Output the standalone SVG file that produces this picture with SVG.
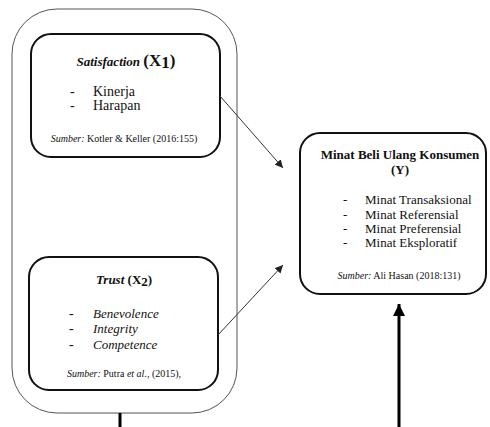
<svg xmlns="http://www.w3.org/2000/svg" width="490" height="427" viewBox="0 0 490 427">
<defs>
<marker id="ah" viewBox="0 0 10 10" refX="10" refY="5" markerWidth="8" markerHeight="8" markerUnits="userSpaceOnUse" orient="auto"><path d="M0,0 L10,5 L0,10 z" fill="#222"/></marker>
<marker id="ahb" viewBox="0 0 10 10" refX="10" refY="5" markerWidth="4" markerHeight="4" orient="auto"><path d="M0,0 L10,5 L0,10 z" fill="#000"/></marker>
<style>
text,tspan{font-family:"Liberation Serif","Times New Roman","DejaVu Serif",serif}
text{fill:#111}
.box{fill:#fff;stroke:#111;stroke-width:2}
.outer{fill:#fff;stroke:#555;stroke-width:1}
.t{font-size:13px;font-weight:bold;font-style:italic}
.tx{font-size:17px;font-weight:bold;font-style:normal}
.b{font-size:14px}
.m{font-size:13px}
.bi{font-size:13px;font-style:italic}
.s{font-size:10px}
.si{font-style:italic}
.h{font-size:13px;font-weight:bold}
</style>
</defs>
<rect class="outer" x="12" y="9" width="225" height="404" rx="45" ry="45"/>
<g id="satisfaction">
<rect class="box" x="31" y="34" width="189" height="123" rx="20" ry="20"/>
<text x="126" y="66" text-anchor="middle"><tspan class="t">Satisfaction </tspan><tspan class="tx">(X</tspan><tspan class="tx" font-size="10" dy="2">1</tspan><tspan class="tx" dy="-2">)</tspan></text>
<text class="b" x="70" y="96">-</text><text class="b" x="93" y="96">Kinerja</text>
<text class="b" x="70" y="110">-</text><text class="b" x="93" y="110">Harapan</text>
<text class="s" x="124" y="142" text-anchor="middle"><tspan class="si">Sumber:</tspan> Kotler &amp; Keller (2016:155)</text>
</g>
<g id="trust">
<rect class="box" x="29" y="257" width="189" height="133" rx="20" ry="20"/>
<text x="124" y="284" text-anchor="middle"><tspan class="t">Trust </tspan><tspan class="h">(X</tspan><tspan class="h" font-size="10" dy="2">2</tspan><tspan class="h" dy="-2">)</tspan></text>
<text class="b" x="69" y="318">-</text><text class="bi" x="93" y="318">Benevolence</text>
<text class="b" x="69" y="333">-</text><text class="bi" x="93" y="333">Integrity</text>
<text class="b" x="69" y="349">-</text><text class="bi" x="93" y="349">Competence</text>
<text class="s" x="124" y="377" text-anchor="middle"><tspan class="si">Sumber:</tspan> Putra <tspan class="si">et al.</tspan>, (2015),</text>
</g>
<g id="minat">
<rect class="box" x="300" y="133" width="186" height="161" rx="20" ry="20"/>
<text class="h" x="400" y="159" text-anchor="middle">Minat Beli Ulang Konsumen</text>
<text class="h" x="400" y="174" text-anchor="middle">(Y)</text>
<text class="m" x="343" y="204">-</text><text class="m" x="365" y="204">Minat Transaksional</text>
<text class="m" x="343" y="219">-</text><text class="m" x="365" y="219">Minat Referensial</text>
<text class="m" x="343" y="233">-</text><text class="m" x="365" y="233">Minat Preferensial</text>
<text class="m" x="343" y="247">-</text><text class="m" x="365" y="247">Minat Eksploratif</text>
<text class="s" x="399" y="279" text-anchor="middle"><tspan class="si">Sumber:</tspan> Ali Hasan (2018:131)</text>
</g>
<g id="connectors" fill="none">
<line x1="220" y1="96" x2="283" y2="168" stroke="#333" stroke-width="1" marker-end="url(#ah)"/>
<line x1="218" y1="335" x2="283" y2="265" stroke="#333" stroke-width="1" marker-end="url(#ah)"/>
<line x1="399" y1="427" x2="399" y2="304" stroke="#000" stroke-width="3" marker-end="url(#ahb)"/>
<line x1="120" y1="413" x2="120" y2="427" stroke="#000" stroke-width="3"/>
</g>
</svg>
